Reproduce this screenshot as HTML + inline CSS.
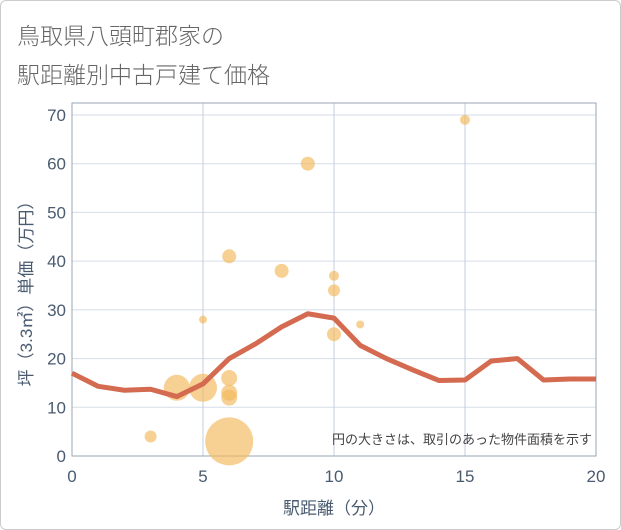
<!DOCTYPE html>
<html><head><meta charset="utf-8"><style>
body{margin:0;background:#fff;}
#wrap{position:relative;width:619px;height:528px;border:1px solid #ccc;border-radius:6px;background:#fff;overflow:hidden;font-family:"Liberation Sans","Noto Sans CJK JP",sans-serif;}
.title{position:absolute;left:16px;font-size:23px;color:#666;font-weight:300;}
svg text{font-family:"Liberation Sans","Noto Sans CJK JP",sans-serif;}
</style></head><body>
<div id="wrap">
<div class="title" style="top:16px">鳥取県八頭町郡家の</div>
<div class="title" style="top:55px">駅距離別中古戸建て価格</div>
<svg id="chart" width="621" height="530" style="position:absolute;left:-1px;top:-1px"></svg>
</div>
<script>
const xTicks=[0,5,10,15,20];
const yTicks=[0,10,20,30,40,50,60,70];
const lineX=[0,1,2,3,4,5,6,7,8,9,10,11,12,13,14,15,16,17,18,19,20];
const lineY=[17,14.3,13.5,13.7,12.2,14.8,20,23,26.5,29.2,28.3,22.7,20,17.7,15.5,15.6,19.5,20,15.6,15.8,15.8];
const bubbleX=[3,4,5,5,6,6,6,6,6,8,9,10,10,10,11,15];
const bubbleY=[4,14,14,28,3,12,13,16,41,38,60,37,34,25,27,69];
const bubbleR=[6,13,14,4,24,8,8,8,7,7,7,5,6,7,4,5];
const L=72,R=596,T=103,B=456;
const sx=v=>L+(v-0)/(20-0)*(R-L);
const sy=v=>456-v*(456-115)/70;
const svg=document.getElementById('chart');
const NS='http://www.w3.org/2000/svg';
function mk(t,a){const e=document.createElementNS(NS,t);for(const k in a)e.setAttribute(k,a[k]);svg.appendChild(e);return e;}
yTicks.forEach(v=>{
 const g=mk('line',{x1:L,x2:R,y1:sy(v),y2:sy(v),stroke:'#d5dde8','stroke-width':1});
 
 
 const t=mk('text',{x:L-6,y:sy(v)+6,'text-anchor':'end','font-size':17,fill:'#4a5b70'});
 t.textContent=v;
 
 
});
xTicks.forEach(v=>{
 const g=mk('line',{x1:sx(v),x2:sx(v),y1:T,y2:B,stroke:'#c5cedb','stroke-width':1});
 
 
 const t=mk('text',{x:sx(v),y:B+26,'text-anchor':'middle','font-size':17,fill:'#4a5b70'});
 t.textContent=v;
 
 
});
const frame=mk('rect',{x:L,y:T,width:R-L,height:B-T,fill:'none',stroke:'#9aa5b4','stroke-width':1});


bubbleX.forEach((x,i)=>{
 const c=mk('circle',{cx:sx(x),cy:sy(bubbleY[i]),r:bubbleR[i],fill:'#f2b95a','fill-opacity':0.65});
 
 
});
const pts=lineX.map((x,i)=>sx(x)+','+sy(lineY[i])).join(' ');
const pl=mk('polyline',{points:pts,fill:'none',stroke:'#d46a50','stroke-width':5,'stroke-linejoin':'round'});


const note=mk('text',{x:592,y:444,'text-anchor':'end','font-size':13,fill:'#444'});
note.textContent='円の大きさは、取引のあった物件面積を示す';


const xt=mk('text',{x:(L+R)/2,y:514,'text-anchor':'middle','font-size':17,fill:'#4a5b70'});
xt.textContent='駅距離（分）';


const yt=mk('text',{x:0,y:0,'text-anchor':'middle','font-size':17,fill:'#4a5b70',transform:'translate(32,'+((T+B)/2+10)+') rotate(-90)'});
yt.textContent='坪（3.3㎡）単価（万円）';


</script>
</body></html>
